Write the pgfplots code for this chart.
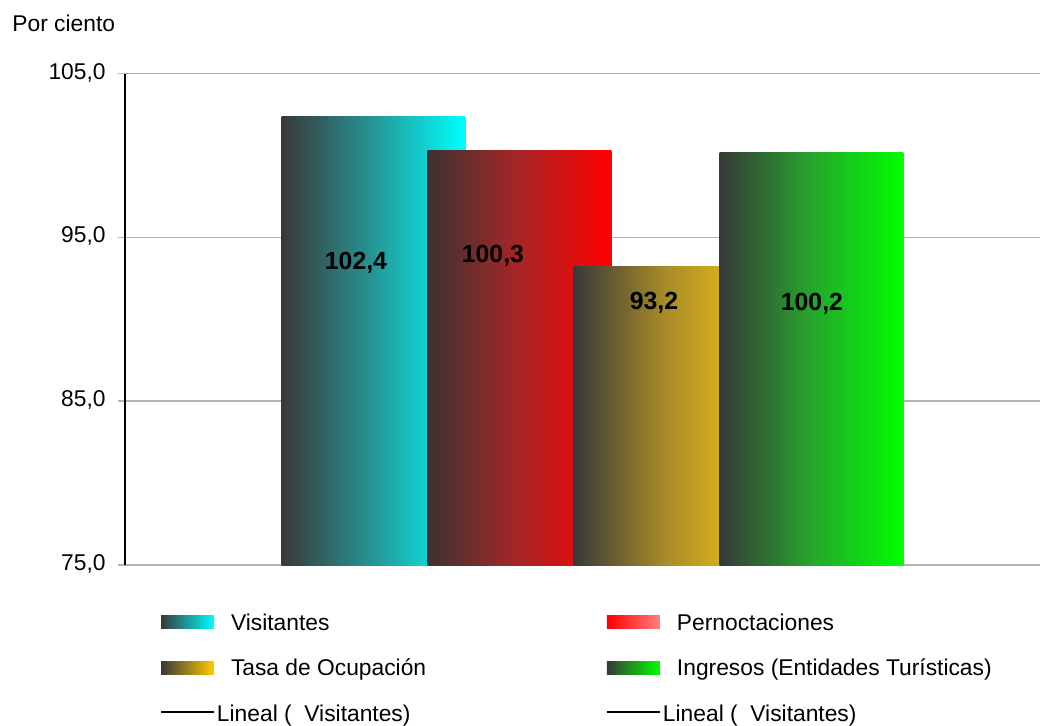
\documentclass[border=0pt]{standalone}
\usepackage{pgfplots}
\pgfplotsset{compat=1.18}
\usepackage{fontspec}
\setmainfont{Liberation Sans}
\definecolor{dk}{RGB}{56,56,56}
\definecolor{dkr}{RGB}{60,50,50}
\definecolor{gold}{RGB}{242,197,17}
\definecolor{goldl}{RGB}{255,204,0}
\definecolor{pinkl}{RGB}{255,128,128}
\definecolor{gridc}{RGB}{180,180,180}
\definecolor{midc}{RGB}{38,150,150}
\definecolor{midr}{RGB}{168,38,38}
\definecolor{midy}{RGB}{168,140,40}
\definecolor{midg}{RGB}{38,165,45}
\begin{document}
\begin{tikzpicture}
\useasboundingbox (-62.5pt,-80pt) rectangle (460pt,282.5pt);
\begin{axis}[
  at={(0pt,0pt)}, anchor=south west,
  scale only axis, width=457.5pt, height=245.75pt,
  xmin=-1.702, xmax=4.565, ymin=75, ymax=105,
  axis y line*=left, axis x line=none,
  y axis line style={-, black, line width=0.75pt},
  ytick={75,85,95,105}, yticklabels={{75,0},{85,0},{95,0},{105,0}},
  xtick=\empty,
  ymajorgrids, grid style={gridc, line width=0.8pt},
  tick align=outside, major tick length=3.5pt,
  major tick style={gridc, line width=0.8pt},
  yticklabel style={font=\fontsize{11.4}{13}\selectfont, inner sep=0pt, anchor=east, xshift=-6pt, yshift=0.5pt},
  legend columns=2,
  legend style={draw=none, fill=none, at={(0.03825,-0.09766)}, anchor=north west,
    inner sep=0pt, outer sep=0pt, row sep=11.75pt,
    font=\fontsize{11.4}{13}\selectfont,
    nodes={inner sep=0pt, text height=8.5pt, text depth=2.5pt},
    /tikz/every even column/.append style={column sep=0pt},
    cells={anchor=base west}},
  legend image code/.code={\path[#1] (0pt,0.75pt) rectangle (26.5pt,7.25pt);},
]
\addplot[ybar, bar width=1.26, bar shift=0pt, draw=none, left color=dk, right color=cyan, middle color=midc, forget plot] coordinates {(0,102.4)};
\addplot[ybar, bar width=1.26, bar shift=0pt, draw=none, left color=dkr, right color=red, middle color=midr, forget plot] coordinates {(1,100.3)};
\addplot[ybar, bar width=1.26, bar shift=0pt, draw=none, left color=dk, right color=gold, middle color=midy, forget plot] coordinates {(2,93.2)};
\addplot[ybar, bar width=1.26, bar shift=0pt, draw=none, left color=dk, right color=green, middle color=midg, forget plot] coordinates {(3,100.2)};

\node[font=\fontsize{12.4}{14}\selectfont\bfseries] at (axis cs:-0.12,93.43) {102,4};
\node[font=\fontsize{12.4}{14}\selectfont\bfseries] at (axis cs:0.818,93.86) {100,3};
\node[font=\fontsize{12.4}{14}\selectfont\bfseries] at (axis cs:1.921,91.0) {93,2};
\node[font=\fontsize{12.4}{14}\selectfont\bfseries] at (axis cs:3.003,90.93) {100,2};

\addlegendimage{draw=none, left color=dk, right color=cyan}
\addlegendentry{\makebox[195.5pt][l]{\hspace{8pt}Visitantes}}
\addlegendimage{draw=none, left color=red, right color=pinkl}
\addlegendentry{\hspace{8pt}Pernoctaciones}
\addlegendimage{draw=none, left color=dk, right color=goldl}
\addlegendentry{\makebox[195.5pt][l]{\hspace{8pt}Tasa de Ocupación}}
\addlegendimage{draw=none, left color=dk, right color=green}
\addlegendentry{\hspace{8pt}Ingresos (Entidades Turísticas)}
\addlegendimage{legend image code/.code={\draw[black, line width=1pt] (0pt,4.5pt) -- (26.5pt,4.5pt);}}
\addlegendentry{\makebox[195.5pt][l]{\hspace{1pt}Lineal (\ \ Visitantes)}}
\addlegendimage{legend image code/.code={\draw[black, line width=1pt] (0pt,4.5pt) -- (26.5pt,4.5pt);}}
\addlegendentry{\hspace{1pt}Lineal (\ \ Visitantes)}
\end{axis}
\node[anchor=base west, inner sep=0pt, font=\fontsize{11.4}{13}\selectfont] at (-56.5pt,267pt) {Por ciento};
\end{tikzpicture}
\end{document}
